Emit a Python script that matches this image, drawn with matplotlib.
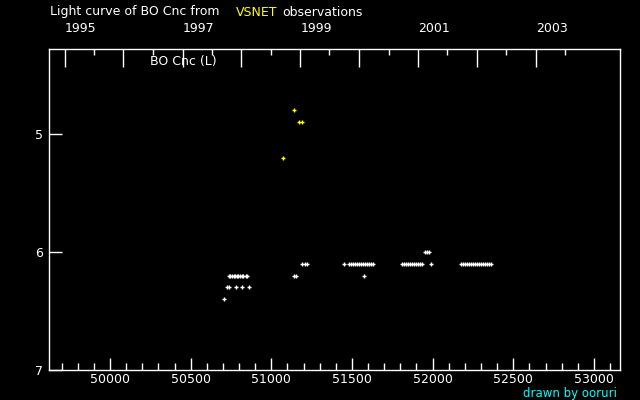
import datetime
import numpy as np
import matplotlib
matplotlib.use("Agg")
import matplotlib.pyplot as plt

# JD - 2400000 and visual magnitude
vsnet_jd = [51074, 51142, 51173, 51191]
vsnet_mag = [5.2, 4.8, 4.9, 4.9]

obs_jd = [50708,
          50723, 50737, 50779, 50816, 50863,
          50737, 50747, 50756, 50768, 50778, 50787, 50796, 50805, 50818, 50827, 50840, 50852,
          51140, 51156,
          51193, 51208, 51224,
          51452, 51481, 51493, 51506, 51518, 51530, 51543, 51555, 51568, 51580, 51592, 51605, 51617, 51630,
          51575,
          51812, 51825, 51837, 51850, 51862, 51874, 51887, 51899, 51912, 51924, 51936, 51989,
          51952, 51964, 51976,
          52175, 52187, 52200, 52212, 52225, 52237, 52249, 52262,
          52274, 52287, 52299, 52311, 52324, 52336, 52348, 52361]
obs_mag = [6.4,
           6.3, 6.3, 6.3, 6.3, 6.3,
           6.2, 6.2, 6.2, 6.2, 6.2, 6.2, 6.2, 6.2, 6.2, 6.2, 6.2, 6.2,
           6.2, 6.2,
           6.1, 6.1, 6.1,
           6.1, 6.1, 6.1, 6.1, 6.1, 6.1, 6.1, 6.1, 6.1, 6.1, 6.1, 6.1, 6.1, 6.1,
           6.2,
           6.1, 6.1, 6.1, 6.1, 6.1, 6.1, 6.1, 6.1, 6.1, 6.1, 6.1, 6.1,
           6.0, 6.0, 6.0,
           6.1, 6.1, 6.1, 6.1, 6.1, 6.1, 6.1, 6.1,
           6.1, 6.1, 6.1, 6.1, 6.1, 6.1, 6.1, 6.1]

years = list(range(1995, 2004))
year_labels = ["1995", "", "1997", "", "1999", "", "2001", "", "2003"]
jd_ticks = [50000, 50500, 51000, 51500, 52000, 52500, 53000]
mag_ticks = [5, 6, 7]

fg = "white"
yellow = "#ffff00"
cyan = "#00ffff"


def year_to_jd(y, m=1):
    # JD - 2400000 at the start of a month
    return (datetime.date(y, m, 1) - datetime.date(1858, 11, 17)).days + 0.5


fig = plt.figure(figsize=(6.4, 4.0), dpi=100, facecolor="black")
ax = fig.add_axes([0.0766, 0.075, 0.892, 0.8025], facecolor="black")

ax.plot(obs_jd, obs_mag, ls="none", marker="+", ms=3.5, mew=1.0, color=fg)
ax.plot(vsnet_jd, vsnet_mag, ls="none", marker="+", ms=3.5, mew=1.0, color=yellow)

ax.set_xlim(49622, 53161)
ax.set_ylim(7, 4.28)

for s in ax.spines.values():
    s.set_color(fg)
    s.set_linewidth(1.0)

ax.set_xticks(jd_ticks)
ax.set_xticklabels([str(t) for t in jd_ticks])
ax.set_xticks(np.arange(49700, 53200, 100), minor=True)
ax.set_yticks(mag_ticks)
ax.set_yticklabels([str(t) for t in mag_ticks])
ax.tick_params(axis="x", which="major", direction="in", length=9, width=1,
               colors=fg, labelsize=9, pad=2.5, top=False)
ax.tick_params(axis="x", which="minor", direction="in", length=5, width=1,
               colors=fg, top=False)
ax.tick_params(axis="y", which="major", direction="in", length=9, width=1,
               colors=fg, labelsize=9, pad=4)

# calendar years on the top axis
top = ax.twiny()
top.set_xlim(ax.get_xlim())
top.set_xticks([year_to_jd(y) for y in years])
top.set_xticklabels(year_labels, ha="left")
top.set_xticks([year_to_jd(y, 7) for y in years], minor=True)
top.tick_params(axis="x", which="major", direction="in", length=13, width=1,
                colors=fg, labelsize=9, pad=10)
top.tick_params(axis="x", which="minor", direction="in", length=4, width=1, colors=fg)
for s in top.spines.values():
    s.set_visible(False)

fig.text(50 / 640, 0.97, "Light curve of BO Cnc from", color=fg, fontsize=9, va="center")
fig.text(236 / 640, 0.97, "VSNET", color=yellow, fontsize=9, va="center")
fig.text(282 / 640, 0.97, "observations", color=fg, fontsize=9, va="center")
fig.text(150 / 640, 1 - 61 / 400, "BO Cnc (L)", color=fg, fontsize=9, va="center")
fig.text(617 / 640, 1 - 393 / 400, "drawn by ooruri", color=cyan, fontsize=8.5,
         va="center", ha="right")

fig.savefig("out.png", dpi=100, facecolor="black")
